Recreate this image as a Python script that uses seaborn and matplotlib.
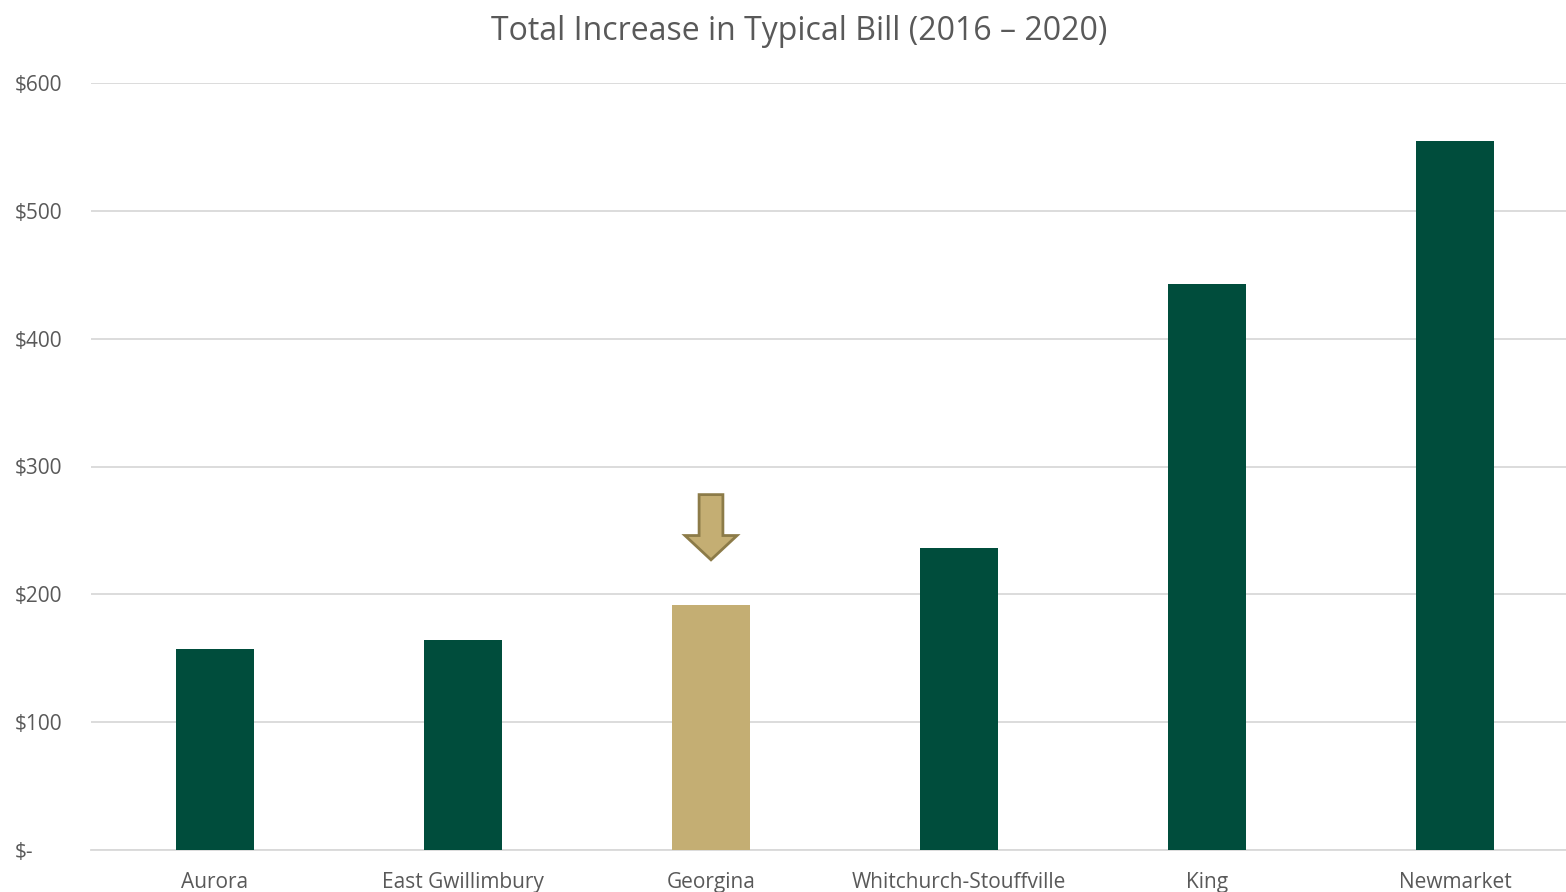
import matplotlib
matplotlib.use("Agg")
import matplotlib.pyplot as plt
import seaborn as sns
import pandas as pd
from matplotlib.patches import Polygon

categories = ["Aurora", "East Gwillimbury", "Georgina", "Whitchurch-Stouffville", "King", "Newmarket"]
values = [157, 164, 192, 236, 443, 554.5]
highlight = "Georgina"
y_ticks = [0, 100, 200, 300, 400, 500, 600]
y_labels = ["$-", "$100", "$200", "$300", "$400", "$500", "$600"]

green = "#004D3C"
gold = "#C4AE73"
gold_edge = "#8C7B48"
text_col = "#595959"

sns.set_theme(style="white")
plt.rcParams['font.family'] = ['Open Sans', 'DejaVu Sans']

df = pd.DataFrame({"cat": categories, "val": values})
palette = {c: (gold if c == highlight else green) for c in categories}

fig = plt.figure(figsize=(15.66, 8.92), dpi=100)
ax = fig.add_axes([91 / 1566, 42 / 892, 1488 / 1566, 767 / 892])
sns.barplot(data=df, x="cat", y="val", hue="cat", palette=palette, dodge=False,
            width=0.315, ax=ax, legend=False, saturation=1, zorder=3, linewidth=0)

ax.set_ylim(0, 600)
ax.set_xlim(-0.5, len(categories) - 0.5)
ax.set_yticks(y_ticks)
ax.set_yticklabels(y_labels)
ax.yaxis.grid(True, color="#D9D9D9", linewidth=1.3, zorder=0)
ax.set_axisbelow(True)
for s in ["top", "right", "left"]:
    ax.spines[s].set_visible(False)
ax.spines["bottom"].set_color("#D9D9D9")
ax.spines["bottom"].set_linewidth(1.3)
ax.tick_params(axis="both", length=0, labelsize=15, labelcolor=text_col)
ax.tick_params(axis="y", pad=55)
ax.tick_params(axis="x", pad=16)
for lbl in ax.get_yticklabels():
    lbl.set_horizontalalignment("left")
ax.set_xlabel("")
ax.set_ylabel("")
fig.text(799 / 1566, 1 - 31 / 892, "Total Increase in Typical Bill (2016 – 2020)",
         fontsize=23, color=text_col, ha="center", va="center")

# down arrow above the highlighted bar
hi = categories.index(highlight)
hv = values[hi]
tip = hv + 35
top = hv + 86
neck = hv + 54
sw = 0.048
hw = 0.105
arrow = Polygon([(hi - sw, top), (hi + sw, top), (hi + sw, neck), (hi + hw, neck),
                 (hi, tip), (hi - hw, neck), (hi - sw, neck)],
                closed=True, facecolor=gold, edgecolor=gold_edge, linewidth=2, zorder=4)
ax.add_patch(arrow)

fig.savefig("out.png", dpi=100)
